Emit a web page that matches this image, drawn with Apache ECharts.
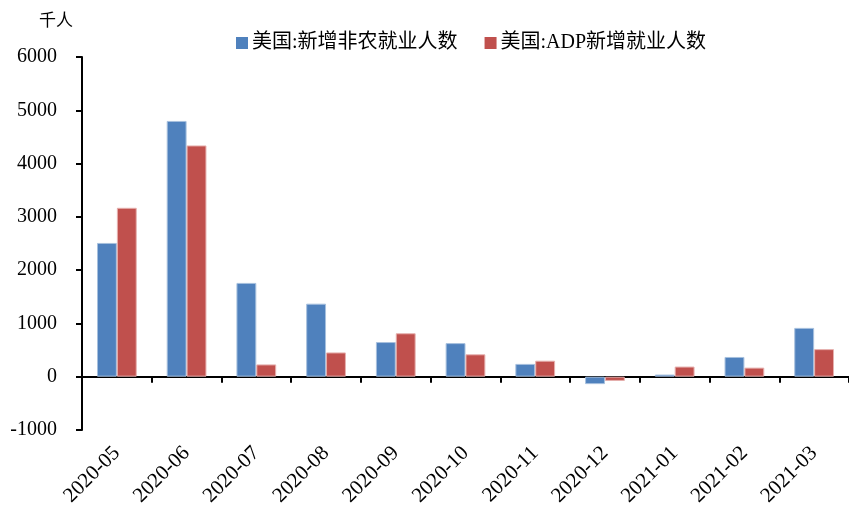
<!DOCTYPE html>
<html>
<head>
<meta charset="utf-8">
<script src="https://cdn.jsdelivr.net/npm/echarts@6/dist/echarts.min.js"></script>
<style>
  html, body { margin: 0; padding: 0; background: #fff; }
  #chart { width: 849px; height: 509px; }
</style>
</head>
<body>
<div id="chart"></div>
<script>
  var months = ['2020-05', '2020-06', '2020-07', '2020-08', '2020-09', '2020-10', '2020-11', '2020-12', '2021-01', '2021-02', '2021-03'];
  var nonfarm = [2510, 4800, 1760, 1370, 650, 630, 240, -140, 40, 370, 916];
  var adp = [3170, 4340, 230, 455, 815, 420, 300, -80, 190, 170, 517];
  var yTicks = {min: -1000, max: 6000, interval: 1000};

  var font = '"Times New Roman", "Liberation Serif", "Noto Sans CJK SC", serif';

  var myChart = echarts.init(document.getElementById('chart'));
  myChart.setOption({
    animation: false,
    textStyle: {fontFamily: font, color: '#000'},
    title: {
      text: '千人',
      left: 34,
      top: 8,
      textStyle: {fontFamily: font, fontSize: 17, fontWeight: 'normal', color: '#000'}
    },
    legend: {
      top: 28,
      left: 231,
      icon: 'rect',
      itemWidth: 12,
      itemHeight: 12,
      itemGap: 27,
      itemStyle: {borderWidth: 0},
      textStyle: {fontFamily: font, fontSize: 20, color: '#000', padding: [0, 0, 0, -1]},
      data: ['美国:新增非农就业人数', '美国:ADP新增就业人数']
    },
    grid: {left: 82, right: 0, top: 57, bottom: 79},
    xAxis: [{
      type: 'category',
      data: months,
      position: 'bottom',
      axisLine: {onZero: true, lineStyle: {color: '#000', width: 2}},
      axisTick: {show: true, length: 6, lineStyle: {color: '#000', width: 2}},
      axisLabel: {show: false}
    }, {
      type: 'category',
      data: months,
      position: 'bottom',
      axisLine: {show: false, onZero: false},
      axisTick: {show: false},
      axisLabel: {
        rotate: 45,
        margin: 20,
        fontFamily: font,
        fontSize: 21,
        color: '#000'
      }
    }],
    yAxis: {
      type: 'value',
      min: yTicks.min,
      max: yTicks.max,
      interval: yTicks.interval,
      axisLine: {show: true, lineStyle: {color: '#000', width: 2}},
      axisTick: {show: true, length: 6, lineStyle: {color: '#000', width: 2}},
      splitLine: {show: false},
      axisLabel: {
        margin: 25,
        fontFamily: font,
        fontSize: 20,
        color: '#000',
        formatter: function (v) { return String(v); }
      }
    },
    series: [{
      name: '美国:新增非农就业人数',
      type: 'bar',
      data: nonfarm,
      barGap: '0%',
      barCategoryGap: '43%',
      itemStyle: {color: '#4F81BD', borderColor: '#A7C0DE', borderWidth: 1}
    }, {
      name: '美国:ADP新增就业人数',
      type: 'bar',
      data: adp,
      barGap: '0%',
      barCategoryGap: '43%',
      itemStyle: {color: '#C0504D', borderColor: '#E6B0AE', borderWidth: 1}
    }]
  });
</script>
</body>
</html>
